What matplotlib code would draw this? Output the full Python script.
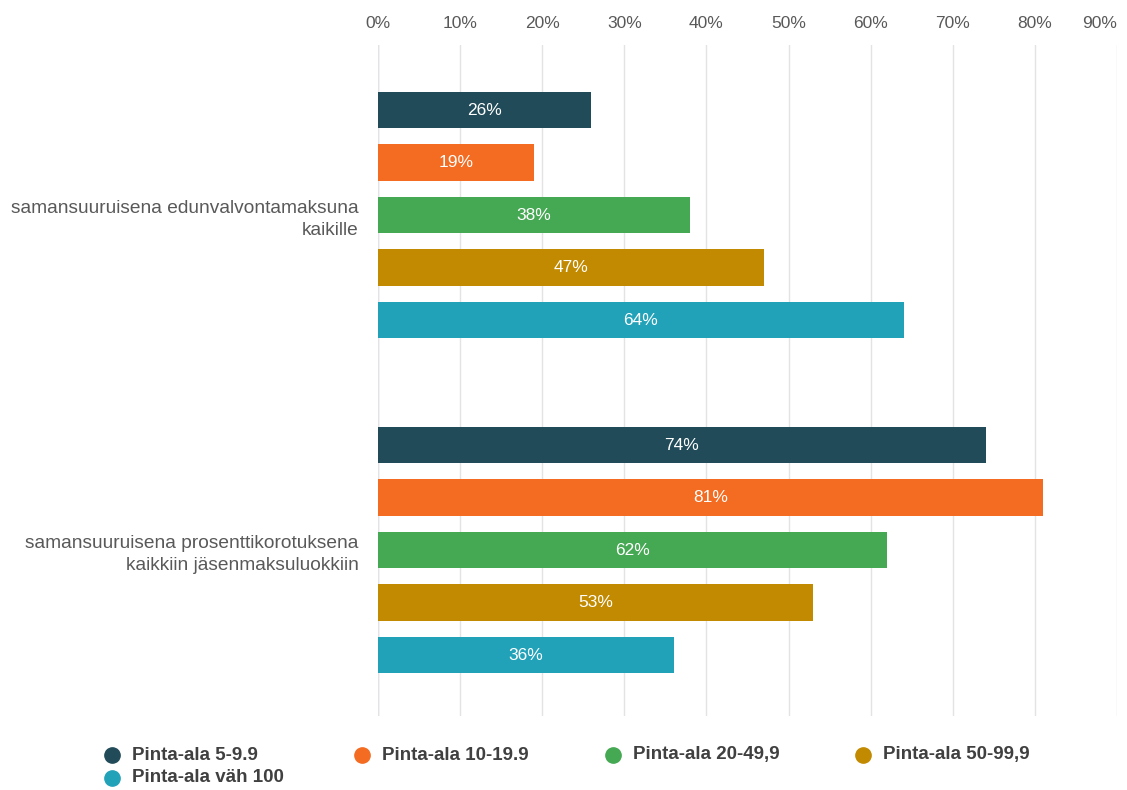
import matplotlib
matplotlib.use("Agg")
import matplotlib.pyplot as plt
import matplotlib.transforms as mtransforms
from matplotlib.lines import Line2D
import numpy as np

plt.rcParams['font.family'] = ['Liberation Sans', 'DejaVu Sans']

categories = ["samansuuruisena edunvalvontamaksuna\nkaikille",
              "samansuuruisena prosenttikorotuksena\nkaikkiin jäsenmaksuluokkiin"]
series_names = ["Pinta-ala 5-9.9", "Pinta-ala 10-19.9", "Pinta-ala 20-49,9",
                "Pinta-ala 50-99,9", "Pinta-ala väh 100"]
values = {
    "Pinta-ala 5-9.9": [26, 74],
    "Pinta-ala 10-19.9": [19, 81],
    "Pinta-ala 20-49,9": [38, 62],
    "Pinta-ala 50-99,9": [47, 53],
    "Pinta-ala väh 100": [64, 36],
}
colors = ["#214B59", "#F36C21", "#45A853", "#C28A00", "#22A2B8"]
xticks = [0, 10, 20, 30, 40, 50, 60, 70, 80, 90]
xtick_labels = [f"{t}%" for t in xticks]

W, H = 1127, 790
fig = plt.figure(figsize=(W/100, H/100), dpi=100)
ax = fig.add_axes([378/W, 1-716/H, (1117-378)/W, (716-45)/H])

group_centers = [3.24, 9.62]
bar_h = 0.70
text_gray = "#595959"

for i, name in enumerate(series_names):
    for g, c in enumerate(group_centers):
        y = c + (i - 2)
        v = values[name][g]
        ax.barh(y, v, height=bar_h, color=colors[i], zorder=3)
        ax.text(v/2, y, f"{v}%", ha="center", va="center", color="white",
                fontsize=12.5, zorder=4)

ax.set_xlim(0, 90)
ax.set_ylim(12.78, 0)
ax.set_xticks(xticks)
ax.set_xticklabels(xtick_labels)
ax.tick_params(axis="x", which="both", length=0, top=True, labeltop=True,
               bottom=False, labelbottom=False, labelsize=12.5,
               labelcolor=text_gray, pad=10)
ax.set_yticks(group_centers)
ax.set_yticklabels(categories, fontsize=13.8, color=text_gray, ha="right")
ax.tick_params(axis="y", length=0, pad=14)
for lab in ax.get_yticklabels():
    lab.set_multialignment("right")
    lab.set_linespacing(1.4)

ax.grid(axis="x", color="#E3E3E3", linewidth=1, zorder=0)
for s in ax.spines.values():
    s.set_visible(False)
ax.axvline(0, color="#C9D5E8", linewidth=1, zorder=1)

# shift last top tick label left (as in reference)
offset = mtransforms.ScaledTranslation(-17/100, 0, fig.dpi_scale_trans)
last = ax.xaxis.get_major_ticks()[-1]
last.label2.set_transform(last.label2.get_transform() + offset)

# legend
legend_pos = [(112, 755), (362, 755), (613, 755), (863, 755), (112, 778)]
for (px, py), name, col in zip(legend_pos, series_names, colors):
    fig.add_artist(Line2D([px/W], [1-py/H], marker="o", markersize=11,
                          color=col, linestyle="none", transform=fig.transFigure))
    fig.text((px+20)/W, 1-py/H, name, fontsize=13.5, fontweight="bold",
             color="#404040", va="center", ha="left")

fig.savefig("out.png", dpi=100, facecolor="white")
